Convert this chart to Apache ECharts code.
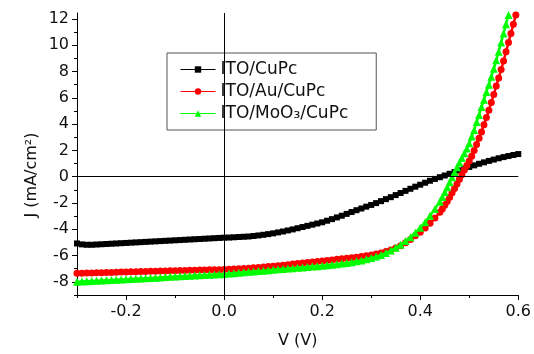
<!DOCTYPE html>
<html>
<head>
<meta charset="utf-8">
<script src="https://cdn.jsdelivr.net/npm/echarts/dist/echarts.min.js"></script>
<style>html,body{margin:0;padding:0;background:#fff;}#c{width:534px;height:354px;}</style>
</head>
<body>
<div id="c"></div>
<script>
const seriesNames = ['ITO/CuPc', 'ITO/Au/CuPc', 'ITO/MoO\u2083/CuPc'];
const xMajorTicks = [-0.2, 0, 0.2, 0.4, 0.6];
const xMinorTicks = [-0.3, -0.1, 0.1, 0.3, 0.5];
const yMajorTicks = [-8, -6, -4, -2, 0, 2, 4, 6, 8, 10, 12];
const yMinorTicks = [-9, -7, -5, -3, -1, 1, 3, 5, 7, 9, 11];

const vBlack = [-0.30,-0.29,-0.28,-0.27,-0.26,-0.25,-0.24,-0.23,-0.22,-0.21,-0.20,-0.19,-0.18,-0.17,-0.16,-0.15,-0.14,-0.13,-0.12,-0.11,-0.10,-0.09,-0.08,-0.07,-0.06,-0.05,-0.04,-0.03,-0.02,-0.01,
0.00,0.01,0.02,0.03,0.04,0.05,0.06,0.07,0.08,0.09,0.10,0.11,0.12,0.13,0.14,0.15,0.16,0.17,0.18,0.19,0.20,0.21,0.22,0.23,0.24,0.25,0.26,0.27,0.28,0.29,
0.30,0.31,0.32,0.33,0.34,0.35,0.36,0.37,0.38,0.39,0.40,0.41,0.42,0.43,0.44,0.45,0.46,0.47,0.48,0.49,0.50,0.51,0.52,0.53,0.54,0.55,0.56,0.57,0.58,0.59,0.60];
const jBlack = [-5.08,-5.15,-5.18,-5.18,-5.16,-5.14,-5.12,-5.10,-5.08,-5.06,-5.04,-5.02,-5.00,-4.98,-4.96,-4.94,-4.92,-4.90,-4.88,-4.86,-4.84,-4.82,-4.80,-4.78,-4.76,-4.74,-4.72,-4.70,-4.68,-4.66,
-4.64,-4.63,-4.61,-4.59,-4.57,-4.55,-4.51,-4.47,-4.42,-4.37,-4.31,-4.24,-4.17,-4.09,-4.01,-3.92,-3.83,-3.74,-3.65,-3.56,-3.47,-3.35,-3.23,-3.10,-2.97,-2.83,-2.69,-2.55,-2.42,-2.28,
-2.15,-2.01,-1.86,-1.71,-1.56,-1.40,-1.24,-1.08,-0.92,-0.76,-0.61,-0.46,-0.31,-0.17,-0.04,0.09,0.22,0.35,0.48,0.61,0.74,0.86,0.98,1.09,1.20,1.30,1.40,1.49,1.57,1.65,1.72];

const vRed = [-0.30,-0.29,-0.28,-0.27,-0.26,-0.25,-0.24,-0.23,-0.22,-0.21,-0.20,-0.19,-0.18,-0.17,-0.16,-0.15,-0.14,-0.13,-0.12,-0.11,-0.10,-0.09,-0.08,-0.07,-0.06,-0.05,-0.04,-0.03,-0.02,-0.01,
0.00,0.01,0.02,0.03,0.04,0.05,0.06,0.07,0.08,0.09,0.10,0.11,0.12,0.13,0.14,0.15,0.16,0.17,0.18,0.19,0.20,0.21,0.22,0.23,0.24,0.25,0.26,0.27,0.28,0.29,
0.30,0.31,0.32,0.33,0.34,0.35,0.36,0.37,0.38,0.39,0.40,0.41,0.42,0.43,0.44,
0.445,0.450,0.455,0.460,0.465,0.470,0.475,0.480,0.485,0.490,0.495,0.500,0.505,0.510,0.515,0.520,0.525,0.530,0.535,0.540,0.545,0.550,0.555,0.560,0.565,0.570,0.575,0.580,0.585,0.590,0.595];
const jRed = [-7.35,-7.34,-7.33,-7.32,-7.31,-7.30,-7.29,-7.28,-7.27,-7.26,-7.25,-7.24,-7.23,-7.22,-7.21,-7.20,-7.19,-7.18,-7.17,-7.16,-7.15,-7.14,-7.13,-7.12,-7.11,-7.10,-7.09,-7.08,-7.07,-7.07,
-7.06,-7.04,-7.02,-7.00,-6.98,-6.96,-6.93,-6.90,-6.87,-6.84,-6.81,-6.77,-6.73,-6.69,-6.65,-6.61,-6.57,-6.53,-6.49,-6.45,-6.41,-6.37,-6.33,-6.29,-6.25,-6.21,-6.17,-6.12,-6.07,-6.01,
-5.95,-5.88,-5.80,-5.70,-5.58,-5.43,-5.25,-5.03,-4.78,-4.50,-4.22,-3.90,-3.55,-3.15,-2.70,
-2.45,-2.18,-1.88,-1.56,-1.23,-0.89,-0.55,-0.20,0.15,0.50,0.85,1.20,1.55,2.00,2.45,2.93,3.40,3.95,4.50,5.05,5.65,6.25,6.90,7.50,8.15,8.80,9.50,10.20,10.90,11.60,12.30];

const vGreen = [-0.30,-0.29,-0.28,-0.27,-0.26,-0.25,-0.24,-0.23,-0.22,-0.21,-0.20,-0.19,-0.18,-0.17,-0.16,-0.15,-0.14,-0.13,-0.12,-0.11,-0.10,-0.09,-0.08,-0.07,-0.06,-0.05,-0.04,-0.03,-0.02,-0.01,
0.00,0.01,0.02,0.03,0.04,0.05,0.06,0.07,0.08,0.09,0.10,0.11,0.12,0.13,0.14,0.15,0.16,0.17,0.18,0.19,0.20,0.21,0.22,0.23,0.24,0.25,0.26,0.27,0.28,0.29,
0.30,0.31,0.32,0.33,0.34,0.35,0.36,0.37,0.38,0.39,0.40,0.41,0.42,0.43,0.44,
0.445,0.450,0.455,0.460,0.465,0.470,0.475,0.480,0.485,0.490,0.495,0.500,0.505,0.510,0.515,0.520,0.525,0.530,0.535,0.540,0.545,0.550,0.555,0.560,0.565,0.570,0.575,0.580];
const jGreen = [-8.00,-7.98,-7.96,-7.94,-7.92,-7.90,-7.88,-7.86,-7.84,-7.82,-7.80,-7.78,-7.76,-7.74,-7.72,-7.70,-7.68,-7.66,-7.64,-7.62,-7.60,-7.58,-7.56,-7.54,-7.52,-7.50,-7.48,-7.46,-7.44,-7.42,
-7.40,-7.37,-7.34,-7.31,-7.27,-7.24,-7.21,-7.18,-7.15,-7.11,-7.08,-7.05,-7.02,-6.99,-6.96,-6.93,-6.90,-6.87,-6.84,-6.81,-6.78,-6.74,-6.70,-6.66,-6.61,-6.56,-6.50,-6.44,-6.37,-6.28,
-6.19,-6.08,-5.95,-5.80,-5.62,-5.41,-5.17,-4.90,-4.60,-4.26,-3.88,-3.46,-2.98,-2.45,-1.90,
-1.55,-1.18,-0.80,-0.42,-0.04,0.34,0.72,1.08,1.42,1.78,2.15,2.55,3.05,3.55,4.15,4.70,5.30,5.85,6.45,7.00,7.60,8.20,8.85,9.50,10.20,10.90,11.60,12.30];

function zip(xs, ys) { return xs.map((x, i) => [x, ys[i]]); }

const FONT = 'DejaVu Sans';
const chart = echarts.init(document.getElementById('c'), null, { renderer: 'canvas' });

const baseX = { type: 'value', min: -0.3, max: 0.6, position: 'bottom', splitLine: { show: false } };
const baseY = { type: 'value', min: -9, max: 12.45, position: 'left', splitLine: { show: false } };

chart.setOption({
  animation: false,
  backgroundColor: '#fff',
  grid: { left: 77, right: 14, top: 13, bottom: 58 },
  xAxis: [
    Object.assign({}, baseX, {
      axisLine: { onZero: false, lineStyle: { color: '#000', width: 1 } },
      axisTick: { customValues: xMajorTicks, length: 5, lineStyle: { color: '#000', width: 1 } },
      axisLabel: { customValues: xMajorTicks, formatter: v => v.toFixed(1), color: '#111', fontSize: 16, fontFamily: FONT, margin: 9 },
      name: 'V (V)', nameLocation: 'middle', nameGap: 38,
      nameTextStyle: { color: '#111', fontSize: 16, fontFamily: FONT }
    }),
    Object.assign({}, baseX, {
      axisLine: { show: false, onZero: false },
      axisTick: { customValues: xMinorTicks, length: 3, lineStyle: { color: '#000', width: 1 } },
      axisLabel: { show: false }
    })
  ],
  yAxis: [
    Object.assign({}, baseY, {
      axisLine: { onZero: false, lineStyle: { color: '#000', width: 1 } },
      axisTick: { customValues: yMajorTicks, length: 5, lineStyle: { color: '#000', width: 1 } },
      axisLabel: { customValues: yMajorTicks, color: '#111', fontSize: 16, fontFamily: FONT, margin: 8 }
    }),
    Object.assign({}, baseY, {
      axisLine: { show: false, onZero: false },
      axisTick: { customValues: yMinorTicks, length: 3, lineStyle: { color: '#000', width: 1 } },
      axisLabel: { show: false }
    })
  ],
  graphic: [{
    type: 'text', x: 32, y: 175, rotation: Math.PI / 2,
    style: { text: 'J (mA/cm\u00b2)', fill: '#111', font: '16px "DejaVu Sans"', align: 'center', verticalAlign: 'middle', textAlign: 'center', textVerticalAlign: 'middle' }
  }],
  legend: {
    orient: 'vertical', left: 167, top: 53,
    data: [
      { name: seriesNames[0], lineStyle: { width: 1 } },
      { name: seriesNames[1], lineStyle: { width: 1 } },
      { name: seriesNames[2], lineStyle: { width: 1 } }
    ],
    itemWidth: 35, itemHeight: 8, itemGap: 5,
    padding: [8, 28, 8, 13],
    borderColor: '#555', borderWidth: 1,
    backgroundColor: '#fff',
    textStyle: { color: '#111', fontSize: 17, fontFamily: FONT, lineHeight: 16 }
  },
  series: [
    {
      name: seriesNames[0], type: 'line', data: zip(vBlack, jBlack),
      symbol: 'rect', symbolSize: 6, showAllSymbol: true,
      itemStyle: { color: '#000' }, lineStyle: { color: '#000', width: 3.5 },
      markLine: {
        silent: true, symbol: ['none', 'none'], label: { show: false },
        lineStyle: { color: '#000', width: 1, type: 'solid' },
        data: [{ xAxis: 0 }, { yAxis: 0 }]
      },
      z: 2
    },
    {
      name: seriesNames[1], type: 'line', data: zip(vRed, jRed),
      symbol: 'circle', symbolSize: 7, showAllSymbol: true,
      itemStyle: { color: '#ff0000' }, lineStyle: { color: '#ff0000', width: 2.5 },
      z: 3
    },
    {
      name: seriesNames[2], type: 'line', data: zip(vGreen, jGreen),
      symbol: 'triangle', symbolSize: 8, showAllSymbol: true,
      itemStyle: { color: '#00ff00' }, lineStyle: { color: '#00ff00', width: 2.5 },
      z: 4
    }
  ]
});
</script>
</body>
</html>
